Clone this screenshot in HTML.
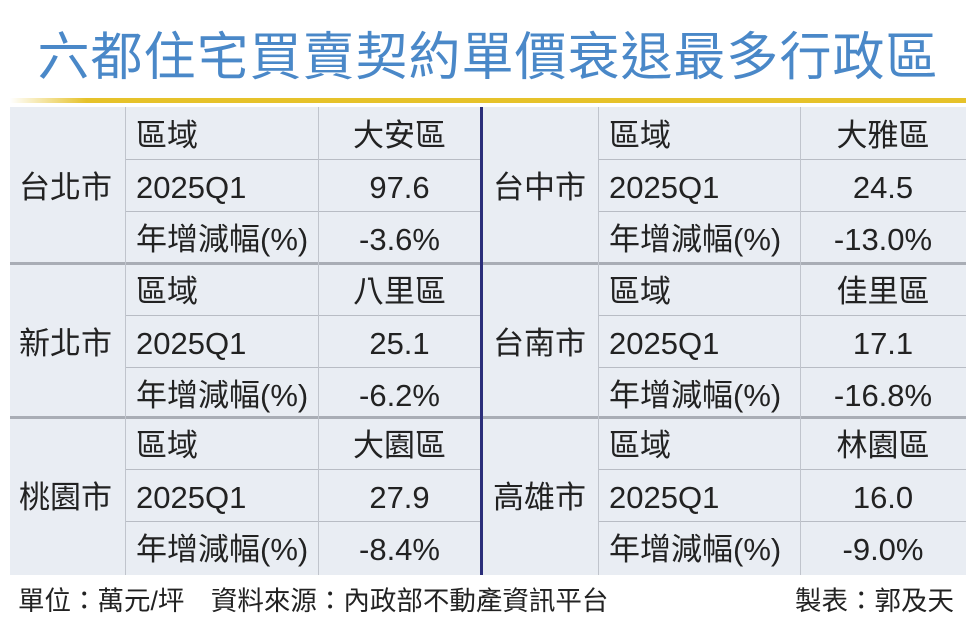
<!DOCTYPE html>
<html><head><meta charset="utf-8"><style>
body{margin:0;width:976px;height:628px;background:#fff;position:relative;overflow:hidden;font-family:"Liberation Sans","Noto Sans CJK TC",sans-serif;color:#222}
.t{position:absolute;left:0;width:976px;top:23px;text-align:center;font-size:52px;color:#4a88c8;letter-spacing:1px;line-height:60px;font-family:"Noto Sans CJK TC",sans-serif}
.y{position:absolute;left:10px;width:956px;top:98px;height:5px;background:linear-gradient(90deg,#fff 0,#e6c22a 8%,#e6c22a 100%)}
.tb{position:absolute;left:10px;top:107px;width:956px;height:468px;background:#e9edf3}
.c{position:absolute;font-size:31px;line-height:58px;height:52px;white-space:nowrap}
.h{position:absolute;height:1px;background:#b8bcc4}
.s{position:absolute;height:3px;background:#a9adb5}
.v{position:absolute;width:1px;background:#c0c4cc}
.f{position:absolute;top:586px;font-size:26.5px;line-height:30px;color:#222}
</style></head><body>
<div class="t">六都住宅買賣契約單價衰退最多行政區</div>
<div class="y"></div>
<div class="tb"></div>
<div class="h" style="left:125px;width:356px;top:159px"></div>
<div class="h" style="left:125px;width:356px;top:211px"></div>
<div class="h" style="left:125px;width:356px;top:315px"></div>
<div class="h" style="left:125px;width:356px;top:367px"></div>
<div class="h" style="left:125px;width:356px;top:469px"></div>
<div class="h" style="left:125px;width:356px;top:521px"></div>
<div class="h" style="left:598px;width:368px;top:159px"></div>
<div class="h" style="left:598px;width:368px;top:211px"></div>
<div class="h" style="left:598px;width:368px;top:315px"></div>
<div class="h" style="left:598px;width:368px;top:367px"></div>
<div class="h" style="left:598px;width:368px;top:469px"></div>
<div class="h" style="left:598px;width:368px;top:521px"></div>
<div class="s" style="left:10px;width:956px;top:262px"></div>
<div class="s" style="left:10px;width:956px;top:416px"></div>
<div class="v" style="left:125px;top:107px;height:468px"></div>
<div class="v" style="left:318px;top:107px;height:468px"></div>
<div class="v" style="left:598px;top:107px;height:468px"></div>
<div class="v" style="left:800px;top:107px;height:468px"></div>
<div style="position:absolute;left:480px;top:107px;width:3px;height:468px;background:#2b2e7a"></div>

<div class="c" style="left:19px;top:159px">台北市</div>
<div class="c" style="left:136px;top:107px">區域</div>
<div class="c" style="left:136px;top:159px">2025Q1</div>
<div class="c" style="left:136px;top:211px">年增減幅(%)</div>
<div class="c" style="left:318px;width:163px;text-align:center;top:107px">大安區</div>
<div class="c" style="left:318px;width:163px;text-align:center;top:159px">97.6</div>
<div class="c" style="left:318px;width:163px;text-align:center;top:211px">-3.6%</div>

<div class="c" style="left:19px;top:315px">新北市</div>
<div class="c" style="left:136px;top:263px">區域</div>
<div class="c" style="left:136px;top:315px">2025Q1</div>
<div class="c" style="left:136px;top:367px">年增減幅(%)</div>
<div class="c" style="left:318px;width:163px;text-align:center;top:263px">八里區</div>
<div class="c" style="left:318px;width:163px;text-align:center;top:315px">25.1</div>
<div class="c" style="left:318px;width:163px;text-align:center;top:367px">-6.2%</div>

<div class="c" style="left:19px;top:469px">桃園市</div>
<div class="c" style="left:136px;top:417px">區域</div>
<div class="c" style="left:136px;top:469px">2025Q1</div>
<div class="c" style="left:136px;top:521px">年增減幅(%)</div>
<div class="c" style="left:318px;width:163px;text-align:center;top:417px">大園區</div>
<div class="c" style="left:318px;width:163px;text-align:center;top:469px">27.9</div>
<div class="c" style="left:318px;width:163px;text-align:center;top:521px">-8.4%</div>

<div class="c" style="left:493px;top:159px">台中市</div>
<div class="c" style="left:609px;top:107px">區域</div>
<div class="c" style="left:609px;top:159px">2025Q1</div>
<div class="c" style="left:609px;top:211px">年增減幅(%)</div>
<div class="c" style="left:800px;width:166px;text-align:center;top:107px">大雅區</div>
<div class="c" style="left:800px;width:166px;text-align:center;top:159px">24.5</div>
<div class="c" style="left:800px;width:166px;text-align:center;top:211px">-13.0%</div>

<div class="c" style="left:493px;top:315px">台南市</div>
<div class="c" style="left:609px;top:263px">區域</div>
<div class="c" style="left:609px;top:315px">2025Q1</div>
<div class="c" style="left:609px;top:367px">年增減幅(%)</div>
<div class="c" style="left:800px;width:166px;text-align:center;top:263px">佳里區</div>
<div class="c" style="left:800px;width:166px;text-align:center;top:315px">17.1</div>
<div class="c" style="left:800px;width:166px;text-align:center;top:367px">-16.8%</div>

<div class="c" style="left:493px;top:469px">高雄市</div>
<div class="c" style="left:609px;top:417px">區域</div>
<div class="c" style="left:609px;top:469px">2025Q1</div>
<div class="c" style="left:609px;top:521px">年增減幅(%)</div>
<div class="c" style="left:800px;width:166px;text-align:center;top:417px">林園區</div>
<div class="c" style="left:800px;width:166px;text-align:center;top:469px">16.0</div>
<div class="c" style="left:800px;width:166px;text-align:center;top:521px">-9.0%</div>

<div class="f" style="left:18px">單位：萬元/坪　資料來源：內政部不動產資訊平台</div>
<div class="f" style="left:795px">製表：郭及天</div>
</body></html>
